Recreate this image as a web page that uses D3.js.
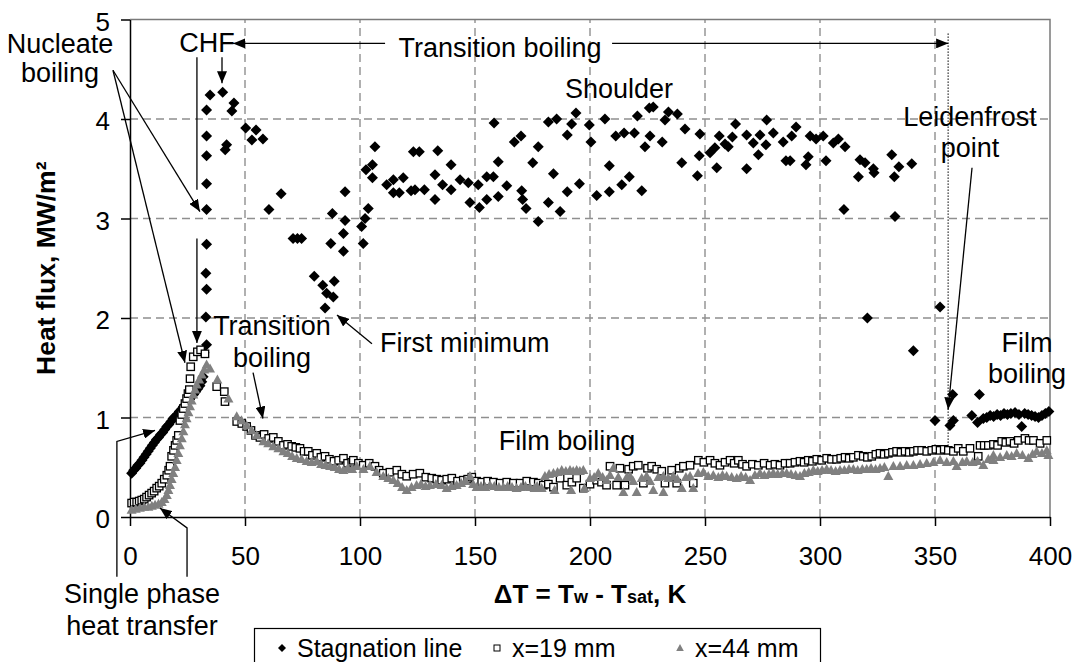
<!DOCTYPE html>
<html>
<head>
<meta charset="utf-8">
<script src="https://cdn.jsdelivr.net/npm/d3@7"></script>
<style>
  body { margin: 0; background: #fff; }
  svg { display: block; font-family: "Liberation Sans", Arial, sans-serif; }
</style>
</head>
<body>
<svg id="chart" width="1075" height="662"></svg>
<script>
// ---- data: [dT (K), heat flux (MW/m2)] ----
const stagnationLine = [
  [0.7,0.44],[1.6,0.47],[2.5,0.49],[3.4,0.52],[4.3,0.54],[5.2,0.57],[6.1,0.60],[7.0,0.63],[7.9,0.66],[8.8,0.69],
  [9.7,0.72],[10.6,0.75],[11.5,0.78],[12.4,0.80],[13.3,0.83],[14.2,0.85],[15.1,0.88],[16.0,0.91],[16.9,0.93],[17.8,0.96],
  [18.7,0.99],[19.6,1.01],[20.5,1.03],[21.4,1.06],[22.3,1.08],[23.2,1.11],[24.1,1.13],[25.0,1.16],[25.9,1.18],[26.8,1.21],
  [27.7,1.23],[28.6,1.26],[29.5,1.29],[30.4,1.32],[31.2,1.36],[31.8,1.41],[32.2,1.65],
  [33.3,1.73],[33.0,2.01],[33.3,2.29],[33.0,2.45],[33.3,2.74],[33.3,3.09],[33.3,3.35],[33.3,3.63],[33.3,3.83],[33.3,4.09],
  [34.8,4.24],[40.3,4.27],[41.4,3.69],[42.0,3.74],[44.3,4.08],[45.2,4.16],[50.3,3.91],[53.0,3.79],[54.8,3.89],[57.8,3.80],
  [60.4,3.09],[65.7,3.25],[70.9,2.80],[72.8,2.80],[74.6,2.80],[80.1,2.42],[83.8,2.33],[84.8,2.10],[85.5,2.25],[87.3,2.75],
  [88.0,3.05],[88.4,2.21],[88.8,2.37],[92.8,2.85],[92.8,2.67],[93.5,3.27],[93.5,2.98],[100.7,2.92],[101.4,2.75],
  [102.2,3.00],[103.6,3.10],[102.6,3.49],[105.4,3.54],[105.4,3.41],[106.5,3.72],[111.6,3.34],[114.5,3.39],[114.5,3.26],
  [117.1,3.26],[118.8,3.41],[122.2,3.28],[123.9,3.29],[123.2,3.67],[125.8,3.67],[128.0,3.29],[132.6,3.44],[132.6,3.19],
  [133.8,3.68],[135.9,3.34],[139.6,3.54],[139.6,3.29],[143.5,3.39],[147.1,3.36],[147.8,3.16],[151.4,3.34],[151.9,3.11],
  [155.1,3.42],[155.1,3.19],[158.0,3.42],[158.3,3.96],[160.1,3.57],[160.1,3.22],[163.8,3.33],[167.1,3.77],[170.0,3.83],
  [170.3,3.28],[170.7,3.19],[172.2,3.10],[175.1,3.56],[177.5,2.97],[177.5,3.72],[181.9,3.16],[181.9,3.97],[184.1,3.45],
  [185.5,4.00],[187.0,3.07],[190.1,3.27],[190.1,3.84],[192.0,3.95],[193.9,4.06],[195.4,3.35],[199.7,3.94],[200.4,3.77],
  [202.9,3.23],[206.5,4.00],[208.4,3.53],[208.4,3.27],[211.2,3.83],[213.8,3.34],[214.8,3.86],[217.1,3.42],[219.3,3.86],
  [220.6,4.03],[222.5,3.28],[223.9,3.72],[225.8,4.11],[226.1,3.83],[227.5,4.12],[231.4,3.77],[232.6,3.99],[234.1,4.07],
  [238.0,4.05],[239.9,3.56],[241.3,3.90],[246.7,3.43],[247.5,3.63],[247.8,3.85],[252.2,3.66],[254.3,3.71],[255.1,3.51],
  [256.2,3.83],[258.7,3.75],[260.1,3.72],[261.9,3.82],[263.3,3.95],[268.1,3.84],[268.1,3.50],[271.0,3.76],[273.2,3.64],
  [273.9,3.84],[276.5,3.74],[276.8,3.99],[279.7,3.86],[284.0,3.77],[285.2,3.58],[287.0,3.58],[287.7,3.83],[289.6,3.92],
  [293.9,3.54],[294.9,3.62],[295.7,3.83],[298.3,3.80],[301.4,3.83],[302.6,3.58],[305.8,3.76],[308.0,3.80],[310.4,3.09],
  [310.9,3.72],[316.7,3.42],[317.4,3.59],[319.6,3.56],[320.6,2.00],[323.2,3.50],[323.5,3.46],[331.2,3.64],[332.3,3.42],
  [332.6,3.02],[334.3,3.52],[339.9,3.55],[340.6,1.67],[350.0,0.97],[352.2,2.11],[356.5,0.92],[357.7,1.23],[358.0,0.97],
  [366.0,1.02],[368.5,0.95],[369.3,1.23],[371.0,0.99],[372.5,1.00],[374.0,1.02],[375.5,1.01],[377.0,1.03],[378.5,1.02],
  [380.0,1.04],[381.5,1.03],[383.0,1.04],[384.8,1.05],[386.5,1.03],[387.7,0.91],[389.0,1.04],[390.5,1.03],[392.0,1.02],
  [393.5,1.01],[395.0,1.00],[396.5,1.02],[398.0,1.04],[399.5,1.06]
];

const x19mm = [
  [0.7,0.14],[1.8,0.15],[2.9,0.15],[4.0,0.16],[5.1,0.17],[6.2,0.18],[7.2,0.20],[8.3,0.22],[9.4,0.24],[10.5,0.26],
  [11.6,0.29],[12.7,0.31],[13.8,0.34],[14.9,0.38],[16.0,0.42],[16.8,0.47],[17.4,0.51],[18.1,0.61],[18.9,0.67],[19.6,0.72],
  [20.3,0.77],[21.0,0.82],[21.7,0.97],[22.5,1.03],[23.2,1.09],[23.9,1.14],[24.6,1.19],[25.2,1.24],[25.8,1.28],[26.1,1.39],
  [26.4,1.51],[27.5,1.61],[29.3,1.66],[30.7,1.68],[32.6,1.64],[37.7,1.31],[41.0,1.26],[41.3,1.16],[46.4,0.96],[48.6,0.94],
  [50.7,0.91],[52.6,0.87],[54.6,0.82],[56.5,0.80],[58.3,0.83],[60.3,0.79],[62.3,0.80],[64.5,0.76],[66.7,0.72],[68.5,0.73],
  [70.3,0.71],[72.1,0.70],[73.9,0.69],[75.7,0.66],[77.5,0.66],[79.3,0.62],[81.2,0.64],[83.0,0.60],[84.8,0.61],[86.7,0.58],
  [88.7,0.56],[90.7,0.57],[92.8,0.59],[94.6,0.54],[96.4,0.55],[97.1,0.57],[99.3,0.54],[101.4,0.52],[104.0,0.54],[106.5,0.51],
  [108.3,0.47],[110.1,0.44],[113.0,0.45],[116.0,0.47],[118.2,0.43],[120.3,0.41],[123.1,0.43],[126.0,0.44],[128.6,0.40],
  [131.2,0.39],[133.4,0.38],[135.5,0.37],[137.7,0.38],[139.9,0.39],[142.4,0.36],[144.9,0.37],[146.8,0.38],[148.6,0.40],
  [150.7,0.36],[152.9,0.35],[155.5,0.36],[158.0,0.35],[160.9,0.34],[163.8,0.35],[166.7,0.34],[169.6,0.34],[172.5,0.36],
  [175.4,0.35],[177.5,0.34],[179.7,0.32],[181.9,0.33],[184.1,0.30],[187.0,0.39],[189.9,0.32],[192.1,0.35],[194.2,0.39],
  [197.1,0.29],[200.0,0.33],[202.9,0.37],[205.0,0.35],[207.2,0.32],[208.7,0.51],[211.6,0.32],[213.0,0.49],[215.2,0.32],
  [216.8,0.48],[218.8,0.51],[221.0,0.52],[223.2,0.34],[225.0,0.49],[226.8,0.51],[229.0,0.48],[231.2,0.46],[232.6,0.34],
  [235.5,0.47],[237.7,0.34],[238.8,0.49],[240.6,0.51],[243.5,0.52],[244.9,0.34],[247.1,0.57],[249.5,0.55],[252.2,0.57],
  [254.3,0.54],[256.5,0.52],[258.7,0.55],[260.9,0.57],[262.7,0.54],[264.5,0.57],[266.3,0.53],[268.1,0.51],[270.6,0.53],
  [273.2,0.52],[275.7,0.54],[278.3,0.52],[280.4,0.53],[282.6,0.52],[284.8,0.54],[287.0,0.54],[289.1,0.55],[291.3,0.56],
  [293.1,0.55],[294.9,0.57],[296.7,0.56],[298.6,0.58],[300.7,0.57],[302.9,0.59],[305.0,0.58],[307.2,0.58],[309.0,0.59],
  [310.9,0.60],[312.7,0.59],[314.5,0.60],[316.7,0.62],[318.8,0.61],[320.6,0.60],[322.5,0.61],[324.3,0.63],[326.1,0.64],
  [327.9,0.63],[329.7,0.64],[331.5,0.65],[333.3,0.66],[335.2,0.65],[337.0,0.66],[338.8,0.65],[340.6,0.66],[342.4,0.67],
  [344.2,0.67],[346.4,0.66],[348.6,0.67],[350.4,0.68],[352.2,0.67],[354.0,0.68],[355.8,0.67],[358.0,0.66],[360.1,0.69],
  [362.3,0.66],[365.2,0.69],[368.8,0.61],[369.6,0.72],[371.4,0.72],[373.2,0.72],[375.4,0.73],[377.2,0.72],[379.0,0.76],
  [380.8,0.75],[382.6,0.76],[384.4,0.74],[386.2,0.77],[389.1,0.79],[390.9,0.77],[392.8,0.77],[395.7,0.74],[398.6,0.77]
];

const x44mm = [
  [0.7,0.07],[2.5,0.08],[4.3,0.09],[6.2,0.10],[8.0,0.10],[9.5,0.11],[10.9,0.12],[12.4,0.13],[13.8,0.15],[15.0,0.18],
  [16.0,0.22],[16.7,0.27],[17.4,0.32],[18.1,0.38],[18.8,0.44],[19.6,0.50],[20.3,0.57],[21.0,0.64],[21.7,0.72],[22.5,0.79],
  [23.2,0.86],[23.9,0.93],[24.6,0.99],[25.4,1.05],[26.1,1.11],[26.8,1.17],[27.5,1.23],[28.3,1.28],[29.0,1.33],[30.1,1.38],
  [31.2,1.43],[32.3,1.48],[33.3,1.53],[34.8,1.49],[38.0,1.38],[42.8,1.19],[46.4,1.01],[48.5,0.97],[50.7,0.92],[52.9,0.87],
  [55.1,0.82],[58.0,0.76],[60.1,0.74],[62.3,0.71],[64.5,0.69],[66.7,0.66],[68.6,0.64],[70.5,0.61],[72.5,0.59],[74.6,0.58],
  [76.8,0.56],[79.0,0.55],[81.2,0.56],[83.1,0.53],[85.0,0.52],[87.0,0.51],[89.0,0.50],[90.9,0.48],[92.8,0.47],[94.7,0.49],
  [96.6,0.48],[98.6,0.51],[101.5,0.48],[104.3,0.51],[107.2,0.45],[110.1,0.41],[112.3,0.39],[114.5,0.37],[116.4,0.34],
  [118.3,0.30],[120.3,0.27],[122.4,0.30],[124.6,0.32],[126.5,0.33],[128.5,0.31],[130.4,0.32],[133.0,0.33],[135.5,0.32],
  [137.7,0.29],[139.8,0.31],[142.0,0.32],[144.0,0.34],[145.9,0.36],[147.8,0.41],[149.2,0.33],[150.7,0.30],[152.6,0.31],
  [154.5,0.30],[156.5,0.32],[158.4,0.31],[160.4,0.30],[162.3,0.30],[164.2,0.31],[166.1,0.30],[168.1,0.29],[170.0,0.30],
  [171.9,0.31],[173.9,0.30],[175.9,0.29],[177.0,0.31],[179.0,0.29],[180.4,0.41],[182.2,0.43],[184.1,0.44],[184.6,0.27],
  [185.9,0.45],[187.7,0.47],[189.5,0.46],[191.3,0.47],[191.8,0.27],[192.7,0.46],[194.2,0.47],[195.6,0.46],[197.1,0.47],
  [197.6,0.29],[200.0,0.39],[201.8,0.40],[203.6,0.44],[205.5,0.40],[207.2,0.37],[208.7,0.42],[210.1,0.49],[212.3,0.40],
  [214.5,0.25],[216.0,0.40],[217.4,0.41],[218.8,0.36],[220.3,0.25],[222.5,0.39],[224.6,0.41],[226.1,0.36],[227.5,0.27],
  [229.7,0.40],[231.9,0.41],[231.9,0.25],[234.0,0.39],[236.2,0.41],[238.0,0.38],[239.9,0.29],[241.7,0.40],[243.5,0.41],
  [244.9,0.29],[247.0,0.44],[249.3,0.45],[251.4,0.41],[253.6,0.42],[255.8,0.40],[257.6,0.42],[259.4,0.41],[261.6,0.40],
  [263.8,0.39],[265.7,0.41],[267.7,0.40],[269.6,0.37],[271.7,0.42],[273.9,0.44],[275.8,0.42],[277.8,0.43],[279.7,0.44],
  [281.6,0.43],[283.6,0.44],[285.5,0.44],[287.4,0.43],[289.4,0.42],[291.3,0.41],[293.2,0.44],[295.1,0.45],[297.1,0.47],
  [299.0,0.46],[300.9,0.47],[302.9,0.48],[304.8,0.47],[306.8,0.46],[308.7,0.47],[310.6,0.47],[312.6,0.48],[314.5,0.48],
  [316.4,0.47],[318.4,0.48],[320.3,0.48],[322.2,0.49],[324.2,0.48],[326.1,0.49],[328.0,0.50],[329.7,0.41],[331.9,0.51],
  [334.8,0.51],[337.7,0.52],[340.6,0.52],[343.5,0.53],[346.4,0.54],[349.3,0.55],[352.2,0.57],[355.1,0.55],[358.0,0.56],
  [359.4,0.51],[361.9,0.55],[363.8,0.56],[366.4,0.55],[368.5,0.56],[371.0,0.52],[373.2,0.58],[375.4,0.57],[375.4,0.62],
  [378.3,0.60],[381.2,0.62],[383.3,0.61],[385.5,0.64],[388.0,0.62],[390.6,0.59],[392.4,0.63],[394.2,0.66],[396.5,0.64],
  [398.6,0.67],[399.3,0.62]
];

const seriesNames = ["Stagnation line", "x=19 mm", "x=44 mm"];
const xTicks = [0, 50, 100, 150, 200, 250, 300, 350, 400];
const yTicks = [0, 1, 2, 3, 4, 5];

// annotation texts, anchored in data units [dT, q]
const noteTexts = [
  { text: "Nucleate", at: [-30.4, 4.66] },
  { text: "boiling", at: [-30.4, 4.37] },
  { text: "CHF", at: [33.5, 4.67] },
  { text: "Transition boiling", at: [160.9, 4.62] },
  { text: "Shoulder", at: [212.6, 4.21] },
  { text: "Leidenfrost", at: [365.2, 3.93] },
  { text: "point", at: [365.2, 3.62] },
  { text: "Film", at: [390, 1.66] },
  { text: "boiling", at: [390, 1.35] },
  { text: "Transition", at: [61.7, 1.83] },
  { text: "boiling", at: [61.7, 1.51] },
  { text: "First minimum", at: [108.7, 1.66], anchor: "start" },
  { text: "Film boiling", at: [190, 0.67] },
  { text: "Single phase", at: [5.2, -0.86] },
  { text: "heat transfer", at: [5.2, -1.19] }
];

// arrows (last point = arrow tip), in data units
const noteArrows = [
  [[-7.4, 4.49], [30.4, 3.07]],
  [[-7.4, 4.49], [23.9, 1.55]],
  [[110.9, 4.76], [44.8, 4.76]],
  [[209.6, 4.76], [355.7, 4.76]],
  [[40, 4.62], [40, 4.36]],
  [[29.1, 2.80], [29.1, 1.75]],
  [[366.1, 3.51], [355.7, 1.08]],
  [[53.5, 1.45], [57.8, 0.99]],
  [[105.2, 1.74], [90, 2.03]],
  [[24.8, -0.60], [24.8, -0.11], [13, 0.09]],
  [[-5.7, -0.60], [-5.7, 0.76], [10.9, 0.87]]
];
const noteLines = [ [[29.1, 4.62], [29.1, 3.29]] ];
const leidenfrostLine = [[355.7, 4.86], [355.7, 0.72]];

class BoilingCurve {

  constructor(_config) {
    this.config = {
      parentElement: _config.parentElement,
      margin: { left: 130, right: 25, top: 19.5, bottom: 145 },
      width: 1075,
      height: 662
    };
    this.initVis();
  }

  initVis() {
    let vis = this;
    const m = vis.config.margin;

    vis.svg = d3.select(vis.config.parentElement);
    vis.x = d3.scaleLinear().domain([0, 400]).range([m.left, vis.config.width - m.right]);
    vis.y = d3.scaleLinear().domain([0, 5]).range([vis.config.height - m.bottom, m.top]);

    // arrow head
    vis.svg.append("defs").append("marker")
      .attr("id", "head")
      .attr("viewBox", "0 0 12 10")
      .attr("refX", 12).attr("refY", 5)
      .attr("markerWidth", 12).attr("markerHeight", 10)
      .attr("markerUnits", "userSpaceOnUse")
      .attr("orient", "auto")
      .append("path").attr("d", "M0,0L12,5L0,10Z").attr("fill", "#000");

    vis.renderVis();
  }

  renderVis() {
    let vis = this;
    const x = vis.x, y = vis.y;
    const [x0, x1] = x.range();
    const [y0, y1] = y.range();

    // dashed grid
    const grid = vis.svg.append("g").attr("stroke", "#8f8f8f").attr("stroke-width", 1.4)
      .attr("stroke-dasharray", "8,5");
    grid.selectAll(".hg").data(yTicks.filter(d => d > 0 && d < 5)).join("line")
      .attr("x1", x0).attr("x2", x1).attr("y1", d => y(d)).attr("y2", d => y(d));
    grid.selectAll(".vg").data(xTicks.filter(d => d > 0 && d < 400)).join("line")
      .attr("y1", y0).attr("y2", y1).attr("x1", d => x(d)).attr("x2", d => x(d));

    // gray frame top/right
    vis.svg.append("path")
      .attr("d", `M${x0},${y1}H${x1}V${y0}`)
      .attr("fill", "none").attr("stroke", "#7a7a7a").attr("stroke-width", 1.5);

    // axes
    const yAxis = vis.svg.append("g").attr("transform", `translate(${x0},0)`)
      .call(d3.axisLeft(y).tickValues(yTicks).tickFormat(d3.format("d"))
        .tickSizeInner(9).tickSizeOuter(0).tickPadding(11));
    const xAxis = vis.svg.append("g").attr("transform", `translate(0,${y0})`)
      .call(d3.axisBottom(x).tickValues(xTicks).tickFormat(d3.format("d"))
        .tickSizeInner(9).tickSizeOuter(0).tickPadding(21));
    [xAxis, yAxis].forEach(a => {
      a.selectAll("path, line").attr("stroke", "#000").attr("stroke-width", 1.5);
      a.selectAll("text").attr("font-size", 26).attr("font-family", "Liberation Sans, Arial, sans-serif")
        .attr("fill", "#000");
    });
    yAxis.selectAll("text").attr("dy", "0.42em");

    // axis titles
    vis.svg.append("text")
      .attr("transform", `translate(55,${(y0 + y1) / 2}) rotate(-90)`)
      .attr("text-anchor", "middle").attr("font-weight", "bold").attr("font-size", 26.5)
      .text("Heat flux, MW/m\u00b2");
    const xt = vis.svg.append("text")
      .attr("x", (x0 + x1) / 2).attr("y", 603)
      .attr("text-anchor", "middle").attr("font-weight", "bold").attr("font-size", 26);
    xt.append("tspan").text("\u0394T = T");
    xt.append("tspan").attr("font-size", 18).text("w");
    xt.append("tspan").text(" - T");
    xt.append("tspan").attr("font-size", 18).text("sat");
    xt.append("tspan").text(", K");

    // data series
    const diamond = "M0,-5.5L5.5,0L0,5.5L-5.5,0Z";
    const tri = "M0,-5.2L5,3.8L-5,3.8Z";

    vis.svg.append("g").selectAll("path").data(stagnationLine).join("path")
      .attr("d", diamond).attr("fill", "#000")
      .attr("transform", d => `translate(${x(d[0])},${y(d[1])})`);

    vis.svg.append("g").selectAll("rect").data(x19mm).join("rect")
      .attr("x", d => x(d[0]) - 3.7).attr("y", d => y(d[1]) - 3.7)
      .attr("width", 7.4).attr("height", 7.4)
      .attr("fill", "#fff").attr("stroke", "#000").attr("stroke-width", 1.3);

    vis.svg.append("g").selectAll("path").data(x44mm).join("path")
      .attr("d", tri).attr("fill", "#808080")
      .attr("transform", d => `translate(${x(d[0])},${y(d[1])})`);

    // annotations
    const line = d3.line().x(d => x(d[0])).y(d => y(d[1]));
    const notes = vis.svg.append("g").attr("fill", "none").attr("stroke", "#000").attr("stroke-width", 1.3);
    notes.selectAll(".arr").data(noteArrows).join("path")
      .attr("d", line).attr("marker-end", "url(#head)");
    notes.selectAll(".ln").data(noteLines).join("path").attr("d", line);
    notes.append("path").attr("d", line(leidenfrostLine))
      .attr("stroke-width", 1).attr("stroke-dasharray", "1.5,1.5");

    vis.svg.append("g").selectAll("text").data(noteTexts).join("text")
      .attr("x", d => x(d.at[0])).attr("y", d => y(d.at[1]))
      .attr("text-anchor", d => d.anchor || "middle")
      .attr("font-size", 27).attr("fill", "#000")
      .text(d => d.text);

    // legend
    const lg = vis.svg.append("g");
    lg.append("rect").attr("x", 254.5).attr("y", 628.5).attr("width", 566).attr("height", 50)
      .attr("fill", "#fff").attr("stroke", "#000").attr("stroke-width", 1.2);
    const items = [
      { name: seriesNames[0], mx: 282, tx: 297 },
      { name: seriesNames[1], mx: 497, tx: 512 },
      { name: seriesNames[2], mx: 680, tx: 695 }
    ];
    const ly = 648;
    lg.append("path").attr("d", "M0,-4L4,0L0,4L-4,0Z").attr("fill", "#000")
      .attr("transform", `translate(${items[0].mx},${ly})`);
    lg.append("rect").attr("x", items[1].mx - 3).attr("y", ly - 3).attr("width", 6).attr("height", 6)
      .attr("fill", "#fff").attr("stroke", "#000").attr("stroke-width", 1);
    lg.append("path").attr("d", "M0,-4L3.8,3L-3.8,3Z").attr("fill", "#808080")
      .attr("transform", `translate(${items[2].mx},${ly})`);
    lg.selectAll("text").data(items).join("text")
      .attr("x", d => d.tx).attr("y", ly + 9).attr("font-size", 25)
      .text(d => d.name);
  }
}

const chart = new BoilingCurve({ parentElement: "#chart" });
</script>
</body>
</html>
